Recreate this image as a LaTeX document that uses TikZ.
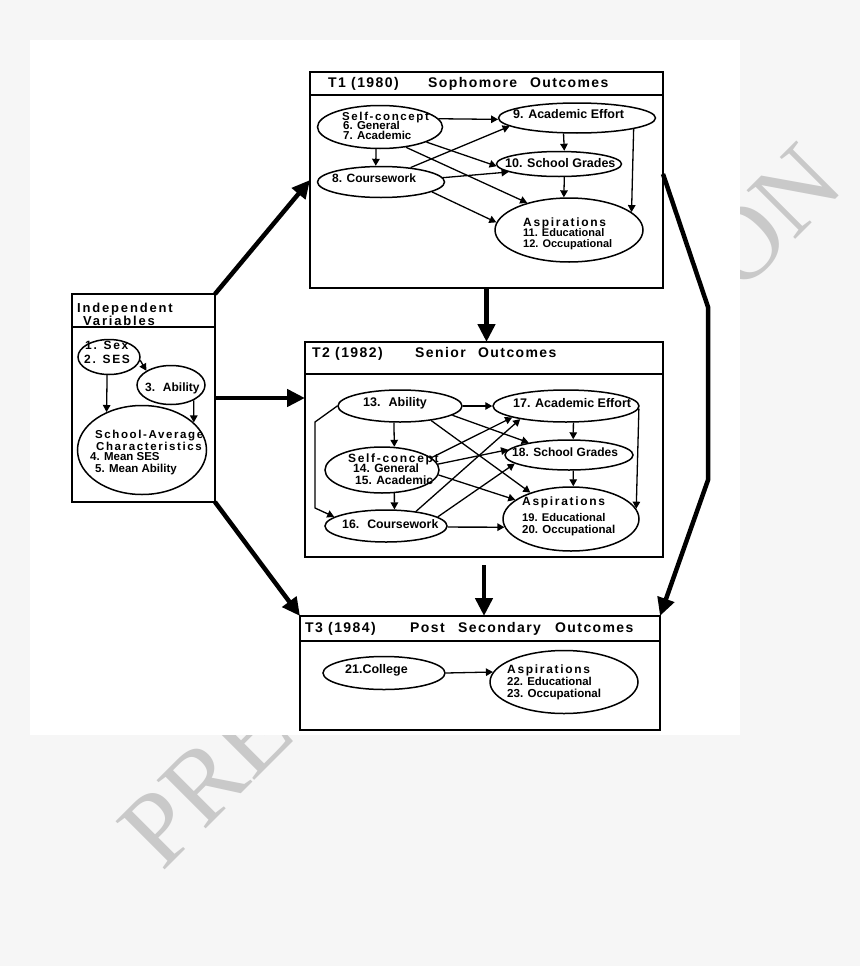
\documentclass[tikz,border=0pt]{standalone}
\usepackage{fontspec}
\setmainfont{Liberation Sans}
\newfontfamily\ttlfont[LetterSpace=10]{Liberation Sans}
\newfontfamily\hdfont[LetterSpace=14]{Liberation Sans}
\newfontfamily\wmfont{Liberation Serif}
\usetikzlibrary{arrows.meta,shapes.geometric}
\definecolor{bggray}{HTML}{F6F6F6}
\definecolor{wmgray}{HTML}{C9C9C9}
\newcommand\fsz[1]{\fontsize{#1}{#1}\selectfont}
\begin{document}
\begin{tikzpicture}[x=1pt,y=-1pt,
  box/.style={draw, line width=2pt, rectangle, inner sep=0pt, outer sep=0pt, anchor=north west},
  div/.style={line width=1.5pt},
  ell/.style={draw, ellipse, line width=1.5pt, inner sep=0pt},
  arr/.style={line width=1.3pt, -{Triangle[length=7pt,width=7.5pt]}},
  bigarr/.style={line width=4.5pt, -{Triangle[length=18pt,width=17pt]}},
  lab/.style={anchor=base west, inner sep=0pt, font=\bfseries\fsz{#1}},
  lab/.default=12,
  hd/.style={anchor=base west, inner sep=0pt, font=\hdfont\bfseries\fsz{#1}},
  hd/.default=12,
  ttl/.style={anchor=base west, inner sep=0pt, font=\ttlfont\bfseries\fsz{14}},
  wm/.style={text=wmgray, font=\wmfont\fsz{105}, rotate=45, anchor=base west, inner sep=0pt}
]
\useasboundingbox (0,0) rectangle (860,966);
\fill[bggray] (0,0) rectangle (860,966);
% watermark (partly hidden by the white panel)
\node[wm] (wm1) at (162,873) {PRE};
\node[wm] (wm2) at (740,295) {ON};
\fill[white] (30,40) rectangle (740,735);

% ---------- boxes ----------
\node[box, minimum width=353pt, minimum height=216pt] (T1) at (310,72) {};
\draw[div] ([yshift=-23pt]T1.north west) -- ([yshift=-23pt]T1.north east);
\node[box, minimum width=358pt, minimum height=215pt] (T2) at (305,342) {};
\draw[div] ([yshift=-32pt]T2.north west) -- ([yshift=-32pt]T2.north east);
\node[box, minimum width=360pt, minimum height=114pt] (T3) at (300,616) {};
\draw[div] ([yshift=-25pt]T3.north west) -- ([yshift=-25pt]T3.north east);
\node[box, minimum width=143pt, minimum height=208pt] (Ind) at (72,294) {};
\draw[div] ([yshift=-33pt]Ind.north west) -- ([yshift=-33pt]Ind.north east);

% ---------- titles ----------
\node[ttl] (t1a) at (328,87) {T1 (1980)};
\node[ttl] (t1b) at (428,87) {Sophomore};
\node[ttl] (t1c) at (530,87) {Outcomes};
\node[ttl] (t2a) at (312,357) {T2 (1982)};
\node[ttl] (t2b) at (415,357) {Senior};
\node[ttl] (t2c) at (478,357) {Outcomes};
\node[ttl] (t3a) at (305,632) {T3 (1984)};
\node[ttl] (t3b) at (410,632) {Post};
\node[ttl] (t3c) at (458,632) {Secondary};
\node[ttl] (t3d) at (555,632) {Outcomes};
\node[hd=13] (i1) at (77,312) {Independent};
\node[hd=13] (i2) at (83,325) {Variables};

% ---------- T1 ellipses ----------
\node[ell, minimum width=125pt, minimum height=43pt] (sc1) at (380,127) {};
\node[ell, minimum width=157pt, minimum height=30pt] (ae1) at (577,118) {};
\node[ell, minimum width=125pt, minimum height=25pt] (sg1) at (559,164) {};
\node[ell, minimum width=127pt, minimum height=31pt] (cw1) at (381,182) {};
\node[ell, minimum width=148pt, minimum height=64pt] (as1) at (569,230) {};
\node[hd=11.5] (a1) at (342,120) {Self-concept};
\node[lab=11.5] (a2) at (343,129) {6. General};
\node[lab=11.5] (a3) at (343,139.5) {7. Academic};
\node[lab=12.5] (a4) at (513,118) {9. Academic Effort};
\node[lab=12.5] (a5) at (505,167) {10. School Grades};
\node[lab] (a6) at (332,182) {8. Coursework};
\node[hd] (a7) at (523,226) {Aspirations};
\node[lab=11] (a8) at (523,236.5) {11. Educational};
\node[lab=11] (a9) at (523,247.5) {12. Occupational};

\draw[arr] (sc1.8) -- (ae1.181);
\draw[arr] (sc1.260) -- (cw1.108);
\draw[arr] (cw1.26) -- (ae1.187);
\draw[arr] (sc1.342) -- (sg1.182);
\draw[arr] (cw1.4) -- (sg1.189);
\draw[arr] (sc1.322) -- (as1.147);
\draw[arr] (cw1.349) -- (as1.174);
\draw[arr] (ae1.229) -- (sg1.68);
\draw[arr] (sg1.292) -- (as1.99);
\draw[arr] (ae1.349) -- (as1.16);

% ---------- Independent variables ----------
\node[ell, minimum width=62pt, minimum height=35pt] (ss) at (109,357) {};
\node[ell, minimum width=68pt, minimum height=39pt] (ab) at (171,385) {};
\node[ell, minimum width=129pt, minimum height=89pt] (sa) at (142,450) {};
\node[hd] (b1) at (85,349) {1. Sex};
\node[hd] (b2) at (84,363) {2. SES};
\node[lab] (b3) at (145,391) {3.~ Ability};
\node[hd=11.5] (b4) at (95,438) {School-Average};
\node[hd=11.5] (b5) at (96,450.5) {Characteristics};
\node[lab=11.5] (b6) at (90,460.5) {4. Mean SES};
\node[lab=11.5] (b7) at (95,472.5) {5. Mean Ability};

\draw[arr] (ss.354) -- (ab.150);
\draw[arr] (ss.264) -- (sa.133);
\draw[arr] (ab.326) -- (sa.28);

% ---------- T2 ellipses ----------
\node[ell, minimum width=124pt, minimum height=32pt] (ab2) at (400,406) {};
\node[ell, minimum width=146pt, minimum height=32pt] (ae2) at (566,406) {};
\node[ell, minimum width=114pt, minimum height=46pt] (sc2) at (382,470) {};
\node[ell, minimum width=128pt, minimum height=30pt] (sg2) at (569,455) {};
\node[ell, minimum width=122pt, minimum height=32pt] (cw2) at (386,526) {};
\node[ell, minimum width=136pt, minimum height=64pt] (as2) at (571,519) {};
\node[lab=12.5] (c1) at (363,406) {13.~ Ability};
\node[lab=12.5] (c2) at (513,407) {17. Academic Effort};
\node[hd] (c3) at (348,462) {Self-concept};
\node[lab] (c4) at (353,472.5) {14. General};
\node[lab] (c5) at (355,484) {15. Academic};
\node[lab] (c6) at (512,456.5) {18. School Grades};
\node[lab=12.3] (c7) at (342,528) {16.~ Coursework};
\node[hd] (c8) at (522,505.5) {Aspirations};
\node[lab=11.2] (c9) at (522,521) {19. Educational};
\node[lab=11.5] (c10) at (522,533.5) {20. Occupational};

\draw[arr] (ab2.east) -- (ae2.west);
\draw[arr] (ab2.250) -- (sc2.62);
\draw[arr] (sc2.298) -- (cw2.63);
\draw[arr] (ab2.west) -- (315,422) -- (315,508) -- (cw2.170);
\draw[arr] (ab2.350) -- (sg2.163);
\draw[arr] (ab2.335) -- (as2.147);
\draw[arr] (sc2.14) -- (ae2.192);
\draw[arr] (sc2.6) -- (sg2.175);
\draw[arr] (sc2.355) -- (as2.161);
\draw[arr] (cw2.26) -- (ae2.196);
\draw[arr] (cw2.10) -- (sg2.189);
\draw[arr] (cw2.359) -- (as2.187);
\draw[arr] (ae2.294) -- (sg2.75);
\draw[arr] (sg2.285) -- (as2.86);
\draw[arr] (ae2.358) -- (as2.9);

% ---------- T3 ----------
\node[ell, minimum width=122pt, minimum height=33pt] (co) at (384,673) {};
\node[ell, minimum width=148pt, minimum height=63pt] (as3) at (564,682) {};
\node[lab=12.5] (d1) at (345,673) {21.College};
\node[hd] (d2) at (507,673) {Aspirations};
\node[lab=11.4] (d3) at (507,685) {22. Educational};
\node[lab=11.6] (d4) at (507,697) {23. Occupational};
\draw[arr] (co.east) -- (as3.172);

% ---------- big arrows ----------
\draw[bigarr] (Ind.north east) -- (T1.west);
\draw[bigarr] (Ind.east) -- (Ind.east -| T2.west);
\draw[bigarr] (Ind.south east) -- (T3.north west);
\draw[bigarr] (T1.south) -- (T1.south |- T2.north);
\draw[bigarr] ([yshift=-8pt]T2.south) -- (T2.south |- T3.north);
\draw[bigarr] ([yshift=6pt]T1.east) -- (708,307) -- (708,480) -- (T3.north east);
\end{tikzpicture}
\end{document}
